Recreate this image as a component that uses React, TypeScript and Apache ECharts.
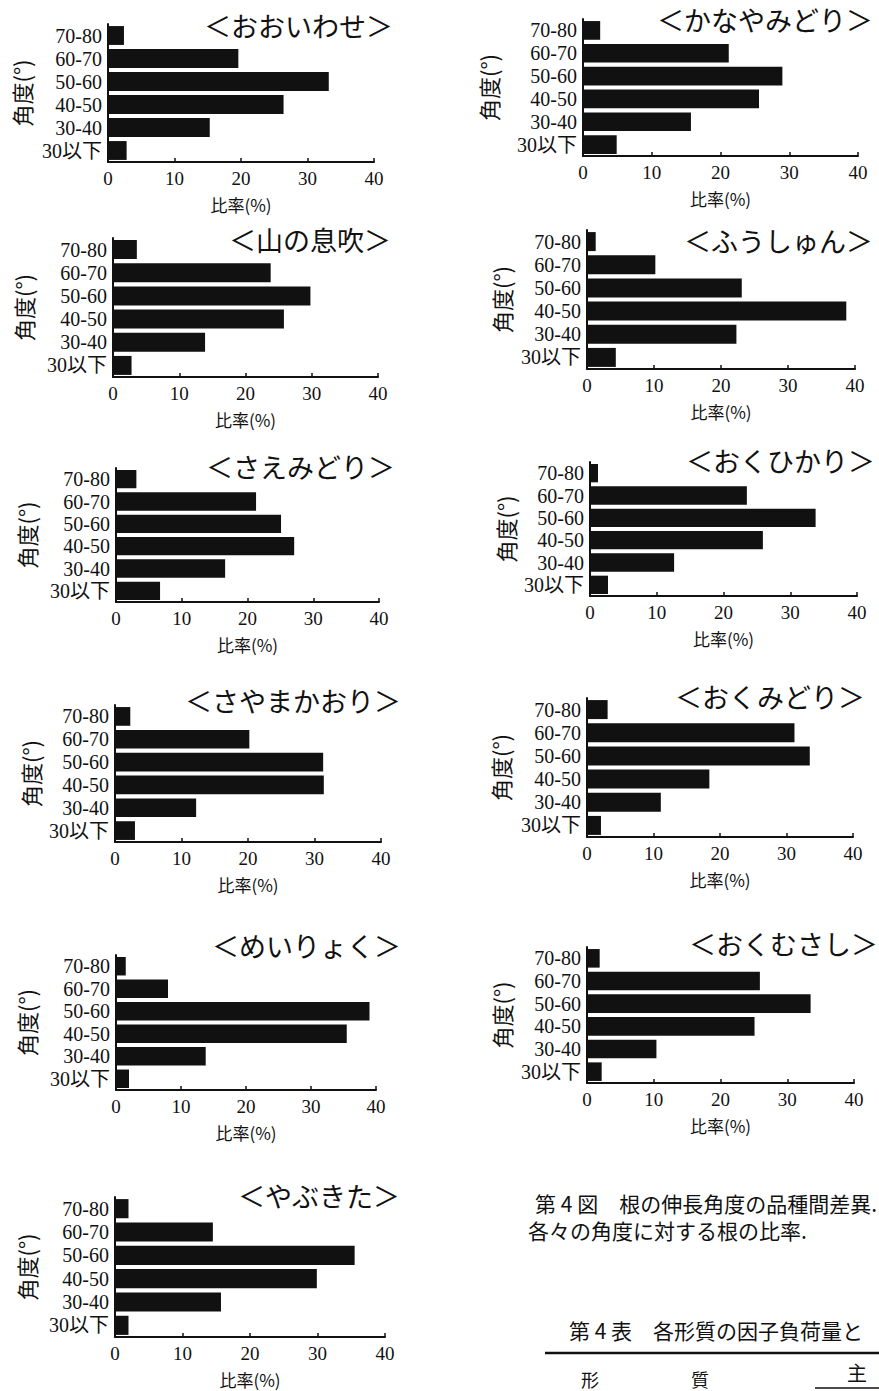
import React, { useEffect, useRef } from "react";
import * as echarts from "echarts";

// Angle classes (top to bottom)
const categories = ["70-80", "60-70", "50-60", "40-50", "30-40", "30以下"];
// Ratio of roots (%) per angle class, per cultivar
const oiwase = [2.4, 19.6, 33.2, 26.4, 15.3, 2.8];
const kanayamidori = [2.5, 21.2, 29.0, 25.6, 15.7, 4.9];
const yamanoibuki = [3.6, 23.8, 29.8, 25.8, 13.9, 2.8];
const fushun = [1.3, 10.2, 23.1, 38.7, 22.3, 4.3];
const saemidori = [3.1, 21.3, 25.1, 27.1, 16.6, 6.7];
const okuhikari = [1.2, 23.5, 33.8, 25.9, 12.6, 2.7];
const sayamakaori = [2.3, 20.2, 31.3, 31.4, 12.2, 3.0];
const okumidori = [3.1, 31.2, 33.5, 18.4, 11.1, 2.1];
const meiryoku = [1.5, 8.0, 39.0, 35.5, 13.8, 2.0];
const okumusashi = [1.9, 25.9, 33.5, 25.1, 10.4, 2.2];
const yabukita = [2.0, 14.5, 35.5, 29.9, 15.7, 2.0];

const titles = [
  "＜おおいわせ＞", "＜かなやみどり＞", "＜山の息吹＞", "＜ふうしゅん＞",
  "＜さえみどり＞", "＜おくひかり＞", "＜さやまかおり＞", "＜おくみどり＞",
  "＜めいりょく＞", "＜おくむさし＞", "＜やぶきた＞",
];
const seriesData = [
  oiwase, kanayamidori, yamanoibuki, fushun, saemidori, okuhikari,
  sayamakaori, okumidori, meiryoku, okumusashi, yabukita,
];
const xMin = 0;
const xMax = 40;
const xInterval = 10;
const xAxisName = "比率(%)";
const yAxisName = "角度(°)";
const caption1 = "第 4 図　根の伸長角度の品種間差異.";
const caption2 = "各々の角度に対する根の比率.";
const tableTitle = "第 4 表　各形質の因子負荷量と";

// layout: grid box, title anchor (right edge, middle y), y-name gap
const layout = [
  { left: 108, top: 24, width: 266, height: 138, tx: 393, ty: 25, yGap: 75 },
  { left: 583, top: 19, width: 275, height: 137, tx: 873, ty: 19, yGap: 83 },
  { left: 113, top: 238, width: 265, height: 139, tx: 391, ty: 239, yGap: 78 },
  { left: 587, top: 230, width: 268, height: 139, tx: 873, ty: 240, yGap: 74 },
  { left: 116, top: 468, width: 263, height: 134, tx: 395, ty: 466, yGap: 78 },
  { left: 590, top: 462, width: 267, height: 134, tx: 875, ty: 460, yGap: 73 },
  { left: 115, top: 705, width: 266, height: 137, tx: 401, ty: 700, yGap: 73 },
  { left: 587, top: 698, width: 266, height: 139, tx: 865, ty: 696, yGap: 75 },
  { left: 116, top: 955, width: 260, height: 135, tx: 401, ty: 945, yGap: 78 },
  { left: 587, top: 947, width: 267, height: 136, tx: 878, ty: 943, yGap: 74 },
  { left: 115, top: 1197, width: 270, height: 140, tx: 400, ty: 1195, yGap: 77 },
];

const SERIF = "'Liberation Serif', 'Noto Sans CJK JP', serif";
const CJK = "'Noto Sans CJK JP', sans-serif";
const INK = "#111";

export default function App() {
  const ref = useRef<HTMLDivElement>(null);
  useEffect(() => {
    if (!ref.current) return;
    const chart = echarts.init(ref.current, undefined, { renderer: "svg" });

    const grids = layout.map((l) => ({
      left: l.left, top: l.top, width: l.width, height: l.height,
      containLabel: false, outerBoundsMode: "none",
    }));
    const xAxes = layout.map((l, i) => ({
      type: "value", gridIndex: i, min: xMin, max: xMax, interval: xInterval,
      splitLine: { show: false },
      axisLine: { show: true, lineStyle: { color: INK, width: 2 } },
      axisTick: { show: true, inside: true, length: 4, lineStyle: { color: INK, width: 1.5 } },
      axisLabel: { color: INK, fontFamily: SERIF, fontSize: 19, margin: 7 },
      name: xAxisName, nameLocation: "middle", nameGap: 34,
      nameTextStyle: { color: INK, fontFamily: CJK, fontSize: 17 },
    }));
    const yAxes = layout.map((l, i) => ({
      type: "category", gridIndex: i, data: categories, inverse: true,
      axisLine: { show: true, lineStyle: { color: INK, width: 2 } },
      axisTick: { show: false },
      axisLabel: { color: INK, fontFamily: SERIF, fontSize: 20, margin: 6, interval: 0 },
      name: yAxisName, nameLocation: "middle", nameGap: l.yGap + 1, nameRotate: 90,
      nameTextStyle: { color: INK, fontFamily: CJK, fontSize: 22 },
    }));
    const series = seriesData.map((d, i) => ({
      type: "bar", xAxisIndex: i, yAxisIndex: i, data: d,
      barCategoryGap: "18%",
      itemStyle: { color: INK },
      silent: true,
    }));

    const txt = (x: number, y: number, text: string, size: number, align: string, family = CJK) => ({
      type: "text", x, y, silent: true,
      style: {
        text, fill: INK, font: `${size}px ${family}`,
        align, textAlign: align, verticalAlign: "middle", textVerticalAlign: "middle",
      },
    });

    const graphic: any[] = [
      ...titles.map((t, i) => txt(layout[i].tx, layout[i].ty, t, 27, "right")),
      txt(877, 1203, caption1, 21, "right"),
      txt(528, 1230, caption2, 21, "left"),
      txt(569, 1330, tableTitle, 21, "left"),
      { type: "line", silent: true, shape: { x1: 545, y1: 1353, x2: 879, y2: 1353 }, style: { stroke: INK, lineWidth: 2.5 } },
      txt(857, 1372, "主", 20, "center"),
      { type: "line", silent: true, shape: { x1: 815, y1: 1388, x2: 879, y2: 1388 }, style: { stroke: INK, lineWidth: 1.5 } },
      txt(590, 1379, "形", 18, "center"),
      txt(700, 1379, "質", 18, "center"),
    ];

    chart.setOption({
      animation: false,
      backgroundColor: "#fff",
      grid: grids,
      xAxis: xAxes,
      yAxis: yAxes,
      series,
      graphic,
    } as any);
    return () => chart.dispose();
  }, []);
  return (
    <div
      ref={ref}
      style={{ position: "absolute", left: 0, top: 0, width: 879, height: 1391 }}
    />
  );
}
